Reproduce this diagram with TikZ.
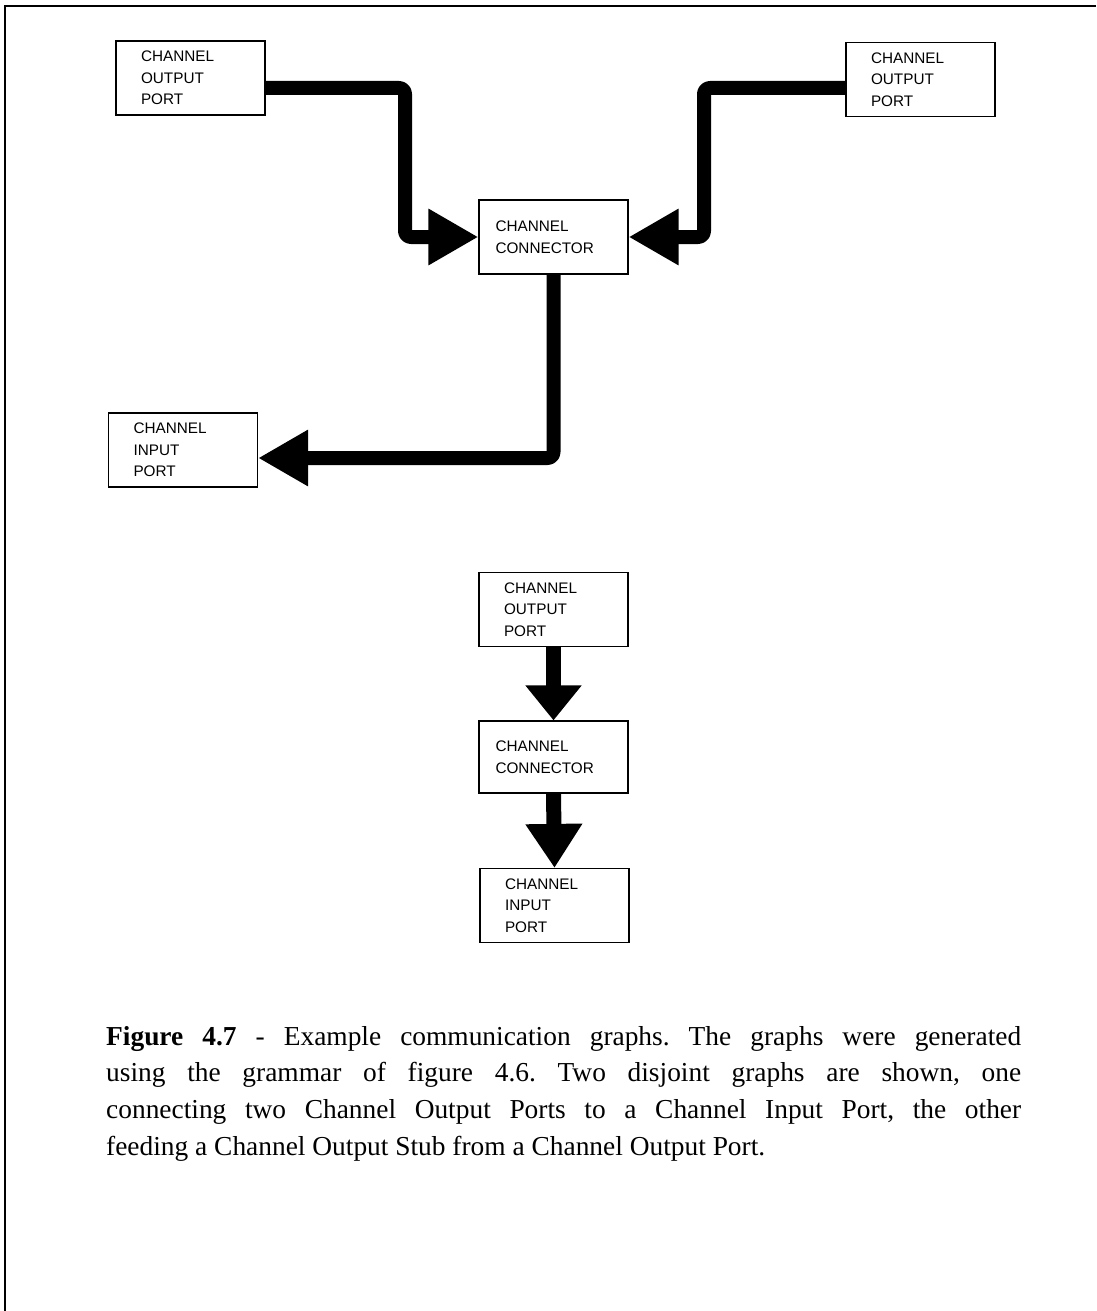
\documentclass[tikz,border=0pt]{standalone}
\usepackage{fontspec}
\setmainfont{Liberation Serif}
\newfontfamily\boxfont{Liberation Sans}
\usetikzlibrary{arrows.meta}

\tikzset{
  portbox/.style={draw, line width=1.2pt, rectangle, minimum width=149pt,
    minimum height=74pt, text width=99pt, inner xsep=25pt, inner ysep=0pt,
    align=left, font=\boxfont\fontsize{15.3pt}{21.5pt}\selectfont},
  linkbox/.style={portbox, text width=116pt, inner xsep=16.5pt},
  bigarrow/.style={line width=14pt, line join=round, rounded corners=6pt,
    -{Triangle[length=50pt,width=53pt]}},
  shortarrow/.style={line width=15pt, -{Triangle[length=#1,width=54pt]}},
  frameline/.style={line width=2.5pt}
}

\begin{document}
\begin{tikzpicture}[x=1pt,y=-1pt]
  \useasboundingbox (0,0) rectangle (1096,1311);

  % page frame (top and left rules)
  \coordinate (ftl) at (5,6);
  \coordinate (ftr) at (1096,6);
  \coordinate (fbl) at (5,1311);
  \draw[frameline] (ftr) -- (ftl) -- (fbl);

  % first graph: two output ports feeding one input port
  \node[portbox] (o1) at (190.5,78) {CHANNEL\\OUTPUT\\PORT};
  \node[portbox] (o2) at (920.5,79.5) {CHANNEL\\OUTPUT\\PORT};
  \node[linkbox] (cc) at (553.5,237) {CHANNEL\\CONNECTOR};
  \node[portbox] (ib) at (183,450) {CHANNEL\\INPUT\\PORT};

  \coordinate (j1) at (405,237);
  \coordinate (j2) at (704,237);

  \draw[bigarrow] ([yshift=-10pt]o1.east) -| (j1) -- (cc.west);
  \draw[bigarrow] ([yshift=-8.5pt]o2.west) -| (j2) -- (cc.east);
  \draw[bigarrow] (cc.south) |- ([yshift=-8pt]ib.east);

  % second graph: output port, connector, input port in a column
  \node[portbox] (o3) at (553.5,609.5) {CHANNEL\\OUTPUT\\PORT};
  \node[linkbox, minimum height=72pt] (c3) at (553.5,757) {CHANNEL\\CONNECTOR};
  \node[portbox] (i3) at (554.5,905.5) {CHANNEL\\INPUT\\PORT};

  \draw[shortarrow=35pt] (o3.south) -- (c3.north);
  \draw[shortarrow=44pt] (c3.south) -- (i3.north);

  % caption
  \node[anchor=base west, inner sep=0pt, text width=915pt, align=justify,
        font=\fontsize{27.4pt}{36.7pt}\selectfont\frenchspacing] (cap) at (106,1045)
    {\textbf{Figure 4.7} - Example communication graphs. The graphs were generated\linebreak
     using the grammar of figure 4.6. Two disjoint graphs are shown, one\linebreak
     connecting two Channel Output Ports to a Channel Input Port, the other\linebreak
     feeding a Channel Output Stub from a Channel Output Port.};
\end{tikzpicture}
\end{document}
